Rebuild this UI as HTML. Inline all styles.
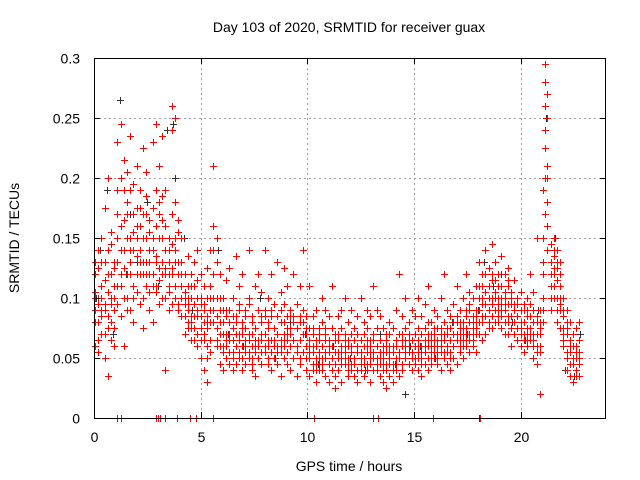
<!DOCTYPE html>
<html><head><meta charset="utf-8"><style>
body{margin:0;background:#fff}
svg{display:block;font-family:"Liberation Sans",sans-serif}
</style></head><body>
<svg id="chart" width="640" height="480" xmlns="http://www.w3.org/2000/svg">
<rect width="640" height="480" fill="#fff"/>
<text x="349" y="32" text-anchor="middle" font-size="14">Day 103 of 2020, SRMTID for receiver guax</text>
<text x="349" y="471" text-anchor="middle" font-size="14">GPS time / hours</text>
<text x="0" y="0" transform="translate(19,238) rotate(-90)" text-anchor="middle" font-size="14">SRMTID / TECUs</text>
<g id="grid"></g>
<g id="black" shape-rendering="crispEdges"></g>
<g id="red" shape-rendering="crispEdges"></g>
<rect x="94.5" y="58.5" width="511" height="360" fill="none" stroke="#000" stroke-width="1"/>
<g id="ticks"></g>
</svg>
<script>
const xTicks=[0,5,10,15,20];
const yTicks=[0,0.05,0.1,0.15,0.2,0.25,0.3];
const yTickLabels=["0","0.05","0.1","0.15","0.2","0.25","0.3"];
const redHours=[0.05,0.2,0.35,0.5,0.65,0.8,0.95,1.1,1.25,1.4,1.55,1.7,1.85,2.0,2.15,2.3,2.45,2.6,2.75,2.9,3.05,3.2,3.35,3.5,3.65,3.8,3.95,4.1,4.25,4.4,4.55,4.7,4.85,5.0,5.15,5.3,5.45,5.6,5.75,5.9,6.05,6.2,6.35,6.5,6.65,6.8,6.95,7.1,7.25,7.4,7.55,7.7,7.85,8.0,8.15,8.3,8.45,8.6,8.75,8.9,9.05,9.2,9.35,9.5,9.65,9.8,9.95,10.1,10.25,10.4,10.55,10.7,10.85,11.0,11.15,11.3,11.45,11.6,11.75,11.9,12.05,12.2,12.35,12.5,12.65,12.8,12.95,13.1,13.25,13.4,13.55,13.7,13.85,14.0,14.15,14.3,14.45,14.6,14.75,14.9,15.05,15.2,15.35,15.5,15.65,15.8,15.95,16.1,16.25,16.4,16.55,16.7,16.85,17.0,17.15,17.3,17.45,17.6,17.75,17.9,18.05,18.2,18.35,18.5,18.65,18.8,18.95,19.1,19.25,19.4,19.55,19.7,19.85,20.0,20.15,20.3,20.45,20.6,20.75,20.9,21.05,21.15,21.25,21.4,21.55,21.7,21.85,22.0,22.15,22.3,22.45,22.6,22.75];
const redVals=[[.09,.12,.06,.105],[.14,.08,.10,.055],[.11,.15,.07,.09],[.175,.13,.05,.095],[.12,.085,.20,.035],[.10,.145,.065,.155],[.09,.125,.075,.11],[.23,.17,.13,.095],[.245,.16,.11,.085],[.19,.215,.14,.06],[.18,.12,.205,.10],[.235,.15,.09,.13],[.17,.195,.11,.08],[.135,.16,.105,.21],[.19,.175,.14,.095],[.225,.15,.12,.075],[.17,.185,.13,.205],[.14,.165,.105,.09],[.12,.23,.15,.08],[.245,.16,.135,.11],[.21,.17,.125,.095],[.235,.185,.13,.10],[.16,.12,.04,.19],[.15,.13,.105,.11],[.26,.24,.17,.125],[.25,.18,.14,.10],[.155,.12,.095,.165],[.13,.11,.085,.15],[.095,.12,.07,.105],[.11,.075,.135,.09],[.12,.08,.10,.065],[.13,.095,.075,.11],[.14,.06,.09,.115],[.085,.12,.05,.10],[.07,.04,.095,.11],[.06,.03,.085,.125],[.14,.09,.055,.11],[.21,.16,.12,.08],[.15,.13,.075,.06],[.10,.07,.045,.12],[.09,.06,.08,.04],[.115,.05,.07,.085],[.065,.125,.045,.09],[.075,.055,.10,.04],[.135,.06,.085,.07],[.095,.05,.065,.11],[.07,.04,.08,.12],[.06,.09,.045,.075],[.14,.065,.055,.10],[.085,.05,.07,.04],[.075,.11,.06,.035],[.12,.065,.09,.05],[.055,.08,.045,.105],[.07,.14,.06,.09],[.045,.075,.10,.065],[.085,.055,.12,.04],[.065,.095,.05,.075],[.13,.07,.055,.045],[.08,.06,.105,.035],[.095,.065,.05,.125],[.07,.11,.045,.085],[.06,.09,.075,.04],[.12,.065,.05,.085],[.075,.055,.095,.035],[.065,.08,.11,.045],[.14,.07,.055,.09],[.06,.085,.04,.075],[.05,.065,.11,.035],[.055,.085,.04,.07],[.045,.06,.09,.03],[.065,.05,.075,.04],[.08,.045,.06,.10],[.055,.035,.07,.09],[.045,.065,.03,.085],[.06,.05,.11,.04],[.07,.035,.055,.025],[.05,.085,.04,.065],[.09,.055,.03,.075],[.045,.065,.05,.10],[.06,.04,.08,.035],[.055,.07,.045,.09],[.075,.05,.035,.065],[.04,.06,.085,.03],[.065,.045,.055,.10],[.05,.07,.035,.08],[.06,.045,.09,.04],[.085,.055,.065,.03],[.07,.05,.11,.04],[.06,.09,.045,.075],[.05,.065,.035,.085],[.045,.075,.055,.03],[.04,.06,.025,.07],[.055,.035,.08,.045],[.06,.045,.03,.075],[.05,.09,.04,.065],[.07,.055,.035,.12],[.045,.065,.085,.04],[.10,.06,.05,.075],[.055,.08,.045,.065],[.065,.05,.09,.04],[.07,.045,.06,.085],[.055,.075,.04,.10],[.06,.085,.05,.035],[.075,.045,.065,.095],[.05,.07,.04,.11],[.08,.055,.065,.045],[.06,.09,.05,.075],[.065,.045,.085,.055],[.07,.06,.04,.10],[.055,.08,.05,.12],[.06,.045,.075,.09],[.085,.055,.065,.04],[.05,.07,.095,.06],[.065,.08,.045,.11],[.055,.07,.09,.06],[.075,.05,.10,.065],[.06,.085,.07,.12],[.09,.065,.055,.105],[.07,.10,.06,.08],[.085,.075,.11,.055],[.13,.09,.07,.10],[.095,.12,.08,.065],[.14,.085,.105,.07],[.10,.125,.08,.09],[.115,.095,.145,.075],[.09,.13,.10,.08],[.11,.085,.12,.095],[.10,.075,.135,.09],[.12,.095,.08,.105],[.085,.11,.07,.125],[.095,.075,.10,.06],[.115,.08,.09,.07],[.075,.10,.065,.085],[.09,.07,.105,.06],[.08,.065,.095,.055],[.07,.10,.06,.085],[.085,.075,.12,.065],[.065,.09,.05,.105],[.08,.06,.15,.045],[.07,.09,.055,.02],[.19,.12,.08,.10],[.295,.28,.225,.17],[.27,.25,.20,.14],[.13,.145,.11,.09],[.15,.12,.135,.10],[.125,.09,.14,.08],[.11,.13,.075,.095],[.085,.10,.065,.06],[.05,.075,.04,.09],[.065,.035,.055,.08],[.045,.07,.03,.06],[.06,.04,.075,.05],[.08,.05,.065,.035]];
const redVals2=[[.10,.08,.13],[.095,.125,.065],[.085,.13,.10],[.115,.09,.07],[.105,.14,.075],[.08,.12,.095],[.13,.10,.06],
[.15,.11,.19],[.14,.12,.20],[.165,.125,.10],[.15,.17,.09],[.12,.19,.14],[.14,.155,.10],[.12,.175,.15],
[.16,.12,.13],[.13,.17,.10],[.15,.11,.12],[.12,.13,.155],[.14,.11,.175],[.13,.19,.105],[.15,.115,.18],
[.15,.12,.165],[.14,.10,.125],[.12,.09,.14],[.145,.12,.095],[.15,.11,.13],[.12,.13,.09],[.11,.10,.12],
[.12,.085,.10],[.10,.095,.08],[.085,.11,.075],[.11,.085,.065],[.10,.07,.085],[.075,.095,.065],[.08,.065,.09],
[.075,.10,.05],[.08,.065,.10],[.14,.10,.09],[.10,.085,.065],[.08,.06,.09],[.07,.055,.10],[.065,.09,.06],
[.07,.055,.08],[.065,.085,.05],[.08,.06,.045],[.07,.055,.09],[.06,.075,.05],[.085,.065,.055],[.07,.05,.095],[.06,.08,.045],[.075,.065,.055],[.09,.06,.05],[.065,.085,.07],[.055,.07,.085],[.08,.06,.05],[.065,.09,.055],[.075,.05,.06],[.06,.085,.07],[.09,.055,.065],[.07,.06,.08],[.055,.075,.065],[.085,.06,.07],[.065,.05,.08],[.075,.06,.055],[.065,.085,.05],[.08,.055,.07],[.07,.06,.05],[.06,.075,.055],
[.06,.045,.075],[.05,.065,.04],[.055,.07,.045],[.06,.04,.05],[.065,.05,.075],[.045,.06,.055],[.05,.075,.06],[.065,.045,.055],[.04,.055,.07],[.06,.05,.045],[.07,.055,.06],[.05,.045,.065],[.055,.06,.04],[.045,.065,.05],[.06,.055,.07],[.065,.04,.05],[.05,.06,.045],[.055,.075,.065],[.06,.045,.05],[.05,.055,.065],[.04,.05,.06],[.045,.065,.055],[.05,.04,.06],[.065,.055,.045],[.06,.07,.05],[.055,.04,.06],[.05,.06,.045],[.055,.07,.05],[.045,.06,.07],[.065,.05,.055],[.06,.07,.045],[.05,.055,.065],
[.06,.05,.07],[.065,.05,.06],[.07,.055,.045],[.06,.065,.055],[.065,.06,.08],[.07,.06,.05],[.055,.07,.065],[.06,.075,.05],[.075,.065,.055],[.065,.07,.08],[.07,.06,.055],[.075,.065,.05],[.06,.07,.08],[.07,.065,.085],[.065,.075,.08],[.08,.07,.06],[.075,.09,.065],[.08,.07,.095],[.085,.075,.065],[.09,.08,.07],
[.08,.11,.09],[.10,.085,.11],[.095,.12,.085],[.11,.09,.075],[.10,.085,.12],[.105,.115,.09],[.10,.09,.08],[.085,.11,.095],[.09,.10,.07],[.095,.08,.115],[.085,.105,.075],[.08,.095,.07],[.085,.075,.095],[.075,.09,.08],[.08,.07,.09],[.09,.065,.075],[.075,.095,.07],[.08,.07,.06],[.07,.085,.055],[.075,.06,.08],
[.15,.09,.13],[.26,.24,.20],[.21,.18,.16],[.12,.13,.10],[.14,.11,.125],[.10,.115,.13],[.12,.09,.10],[.09,.075,.07],[.07,.08,.055],[.06,.045,.065],[.05,.045,.07],[.055,.035,.05],[.065,.045,.055]];
const zeroHours=[1.1,1.25,2.9,3.0,3.1,3.35,3.9,4.5,4.8,5.6,10.3,13.1,13.3,15.9,18.1];
const blackHours=[0.1,0.3,0.6,0.9,1.2,1.5,2.0,2.5,3.0,3.4,3.8,4.2,4.6,5.3,5.8,6.3,7.0,7.8,8.5,9.2,9.9,10.5,11.2,12.0,12.7,13.4,14.1,14.6,15.3,16.0,16.8,17.5,18.0,18.3,18.7,19.1,19.6,20.2,20.8,21.2,21.6,22.1,22.5,22.8,1.7,3.7,14.8,18.05];
const blackVals=[.10,.14,.19,.07,.265,.12,.13,.18,.11,.24,.20,.15,.09,.08,.14,.07,.06,.10,.05,.08,.07,.045,.06,.05,.04,.07,.045,.02,.06,.05,.08,.07,.09,.13,.11,.12,.08,.065,.09,.25,.15,.04,.035,.07,.17,.245,.06,0];
const X=h=>94+h*(512/24), Y=v=>418-v*1200;
const NS="http://www.w3.org/2000/svg";
function plus(g,x,y,c){const cx=Math.round(x),cy=Math.round(y);const p=document.createElementNS(NS,"path");p.setAttribute("d",`M${cx-3},${cy+0.5}h7M${cx+0.5},${cy-3}v7`);p.setAttribute("stroke",c);p.setAttribute("stroke-width","1");


g.appendChild(p);}
const grid=document.getElementById("grid"),ticks=document.getElementById("ticks");
function line(g,x1,y1,x2,y2,s,d){const l=document.createElementNS(NS,"line");l.setAttribute("x1",x1);l.setAttribute("y1",y1);l.setAttribute("x2",x2);l.setAttribute("y2",y2);l.setAttribute("stroke",s);if(d)l.setAttribute("stroke-dasharray",d);


g.appendChild(l);}
function txt(g,x,y,s,a){const t=document.createElementNS(NS,"text");t.setAttribute("x",x);t.setAttribute("y",y);t.setAttribute("text-anchor",a);t.setAttribute("font-size","14");t.textContent=s;


g.appendChild(t);}
xTicks.forEach(h=>{const x=Math.round(X(h))+0.5;if(h>0)line(grid,x,58,x,418,"#a0a0a0","2,3");line(ticks,x,418,x,412,"#000");line(ticks,x,58,x,64,"#000");txt(ticks,x,442,String(h),"middle");});
yTicks.forEach((v,i)=>{const y=Math.round(Y(v))+0.5;if(v>0&&v<0.3)line(grid,94,y,606,y,"#a0a0a0","2,3");line(ticks,94,y,100,y,"#000");line(ticks,606,y,600,y,"#000");txt(ticks,80,y+5,yTickLabels[i],"end");});
const bg=document.getElementById("black"),rg=document.getElementById("red");
blackHours.forEach((h,i)=>plus(bg,X(h),Y(blackVals[i]),"#333"));
redHours.forEach((h,i)=>{redVals[i].forEach(v=>plus(rg,X(h),Y(v),"#f00"));(redVals2[i]||[]).forEach(v=>plus(rg,X(h),Y(v),"#f00"));});
zeroHours.forEach(h=>plus(rg,X(h),Y(0),"#f00"));
</script>
</body></html>
